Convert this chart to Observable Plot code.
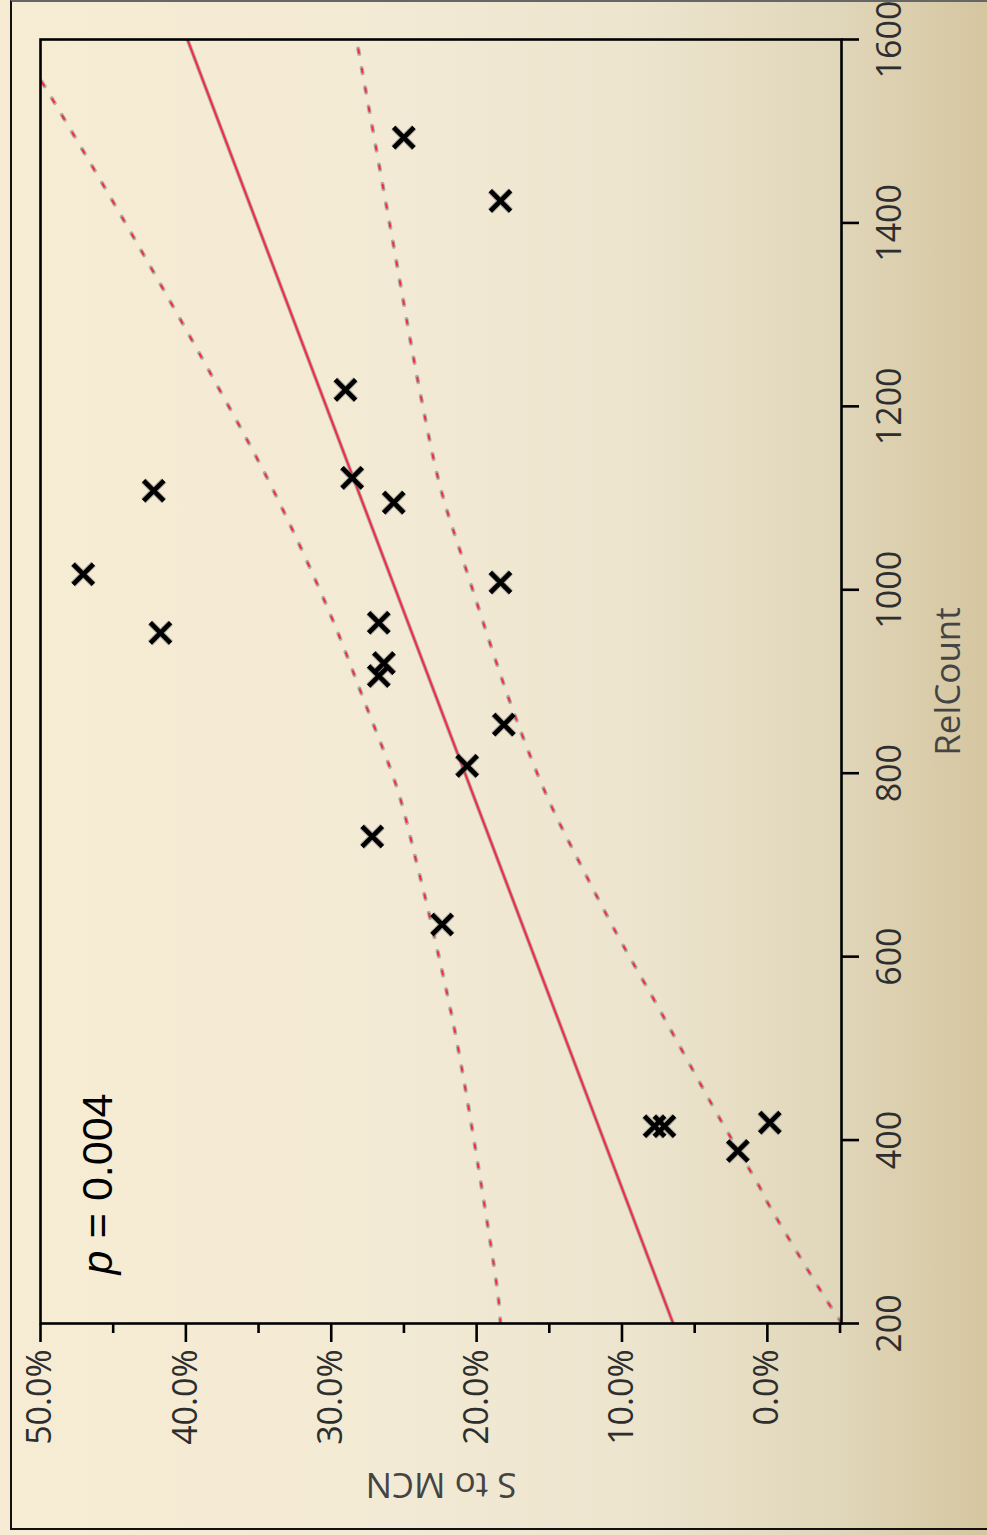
<!DOCTYPE html>
<html>
<head>
<meta charset="utf-8">
<script src="https://cdn.jsdelivr.net/npm/d3@7"></script>
<script src="https://cdn.jsdelivr.net/npm/@observablehq/plot@0.6"></script>
<style>
  html, body { margin: 0; padding: 0; width: 987px; height: 1535px; overflow: hidden; }
  body {
    position: relative;
    background: linear-gradient(to right, #f7ecd3 0%, #f3ead5 40%, #ece4cd 65%, #e1d7bb 84%, #d5c6a0 100%);
  }
  #border {
    position: absolute; left: 10px; top: 0; width: 1000px; height: 1530px;
    box-sizing: border-box;
    border-left: 2px solid #111; border-bottom: 2px solid #111; border-top: 2px solid #666;
  }
  #rot {
    position: absolute; left: 0; top: 0; width: 1535px; height: 987px;
    transform-origin: 0 0; transform: translate(0px, 1535px) rotate(-90deg);
  }
</style>
</head>
<body>
<div id="border"></div>
<div id="rot"></div>
<script>
// ---- data ----
const relCount = [1017, 1108, 953, 1218, 1122, 1095, 1493, 1424, 1008, 964, 920, 906, 853, 808, 731, 635, 415, 415, 419, 388];
const sToMcn   = [47.06, 42.21, 41.75, 29.02, 28.56, 25.70, 25.01, 18.36, 18.36, 26.73, 26.38, 26.73, 18.13, 20.65, 27.18, 22.37, 7.76, 7.08, -0.17, 2.03];

const fitX = [200, 1600];
const fitY = [6.48, 39.89];

const upperX = [200, 226, 349, 515, 626, 700, 782, 880, 978, 1111, 1222, 1404, 1549, 1556];
const upperY = [18.36, 18.49, 19.66, 21.45, 22.97, 24.09, 25.44, 27.76, 30.19, 34.06, 37.82, 44.31, 49.72, 50.0];

const lowerX = [200, 206, 222, 330, 349, 422, 550, 624, 697, 771, 870, 1030, 1111, 1213, 1400, 1600];
const lowerY = [-5.1, -4.89, -4.21, -0.08, 0.54, 3.22, 7.69, 10.33, 12.74, 15.05, 17.53, 20.88, 22.48, 23.86, 25.99, 28.26];

const xTicks = [200, 400, 600, 800, 1000, 1200, 1400, 1600];
const yTicks = [0, 10, 20, 30, 40, 50];
const yMinorTicks = [-5, 5, 15, 25, 35, 45];

const xLabel = "RelCount";
const yLabel = "S to MCN";
const pLabel = "p";
const pValue = "= 0.004";

// ---- tables ----
const points = relCount.map((x, i) => ({x, y: sToMcn[i]}));
const fit = fitX.map((x, i) => ({x, y: fitY[i]}));
const upper = upperX.map((x, i) => ({x, y: upperY[i]}));
const lower = lowerX.map((x, i) => ({x, y: lowerY[i]}));

const red = "#f52a48";
const halo = "#a49a94";
const font = "Open Sans";

const bandMarks = (data) => [
  Plot.line(data, {x: "x", y: "y", curve: "catmull-rom", stroke: halo, strokeWidth: 4, strokeDasharray: "5.5 14.1", strokeOpacity: 0.8, clip: true}),
  Plot.line(data, {x: "x", y: "y", curve: "catmull-rom", stroke: red, strokeWidth: 2, strokeDasharray: "3.5 16.1", strokeDashoffset: -1, clip: true})
];

const chart = Plot.plot({
  width: 1535,
  height: 987,
  marginLeft: 211,
  marginRight: 40,
  marginTop: 40,
  marginBottom: 146,
  style: {background: "transparent", fontFamily: font, overflow: "visible"},
  x: {domain: [200, 1600]},
  y: {domain: [-5.1, 50]},
  marks: [
    ...bandMarks(upper),
    ...bandMarks(lower),
    Plot.line(fit, {x: "x", y: "y", stroke: halo, strokeWidth: 3.8, strokeOpacity: 0.8, clip: true}),
    Plot.line(fit, {x: "x", y: "y", stroke: red, strokeWidth: 2, clip: true}),
    Plot.dot(points, {x: "x", y: "y", symbol: "times", r: 9.3, stroke: "#777", strokeWidth: 6.6, strokeOpacity: 0.55}),
    Plot.dot(points, {x: "x", y: "y", symbol: "times", r: 9.3, stroke: "#000", strokeWidth: 4.6}),
    Plot.frame({stroke: "#000", strokeWidth: 2.6}),
    Plot.axisY({ticks: yTicks, tickSize: 18, tickPadding: 8, tickFormat: d => d.toFixed(1) + "%",
      fontSize: 34, fontFamily: font, color: "#000", fill: "#2e2e2e", strokeWidth: 2.6, label: null}),
    Plot.axisY({ticks: yMinorTicks, tickSize: 9, tickFormat: () => "", color: "#000", strokeWidth: 2.6, label: null}),
    Plot.axisX({ticks: xTicks, tickSize: 18, tickPadding: 17, tickFormat: d => String(d),
      fontSize: 34, fontFamily: font, color: "#000", fill: "#2e2e2e", strokeWidth: 2.6, label: null}),
    Plot.text([xLabel], {frameAnchor: "bottom", dy: 107, textAnchor: "middle", lineAnchor: "middle",
      fontSize: 35, fontFamily: font, fill: "#444"}),
    Plot.text([yLabel], {frameAnchor: "left", dx: -161, rotate: -90, textAnchor: "middle", lineAnchor: "middle",
      fontSize: 35, fontFamily: font, fill: "#444"}),
    Plot.text([pLabel], {frameAnchor: "top-left", dx: 49, dy: 71, textAnchor: "start", lineAnchor: "bottom",
      fontStyle: "italic", fontSize: 43, fontFamily: "Liberation Sans", fill: "#000"}),
    Plot.text([pValue], {frameAnchor: "top-left", dx: 230, dy: 71, textAnchor: "end", lineAnchor: "bottom",
      fontSize: 43, fontFamily: "Liberation Sans", fill: "#000"})
  ]
});

document.getElementById("rot").appendChild(chart);
</script>
</body>
</html>
